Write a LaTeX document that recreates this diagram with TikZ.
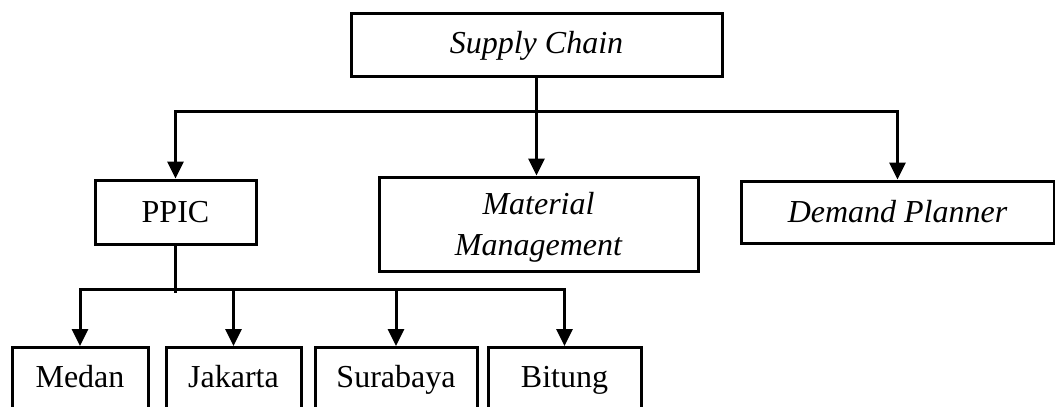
\documentclass[tikz,border=0pt]{standalone}
\usepackage{fontspec}
\setmainfont{Liberation Serif}
\usetikzlibrary{arrows.meta}

\begin{document}
\begin{tikzpicture}[x=1pt,y=-1pt,
  font=\fontsize{32}{41}\selectfont,
  box/.style={draw=black, line width=3pt, rectangle, inner sep=0pt, align=center},
  cityboxstyle/.style={box, anchor=north, text height=20pt, text depth=20pt, inner ysep=20pt},
  conn/.style={draw=black, line width=3pt, line join=miter},
  tip/.style={-{Triangle[length=17pt,width=16pt]}},
  tips/.style={{Triangle[length=17pt,width=16pt]}-{Triangle[length=17pt,width=16pt]}}
]
\useasboundingbox (0,0) rectangle (1055,407);
\clip (0,0) rectangle (1055,407);

% top level
\node[box, minimum width=371pt, minimum height=63pt, text height=23pt, text depth=5pt] (sc) at (536.5,44.5) {\itshape Supply Chain};

% second level
\node[box, minimum width=161pt, minimum height=64pt] (ppic) at (175.5,212) {PPIC};
\node[box, minimum width=319pt, minimum height=94pt, text depth=0pt] (mm) at (538.5,224) {\itshape Material\\\itshape Management};
\node[box, minimum width=313pt, minimum height=62pt] (dp) at (897.5,212) {\itshape Demand Planner};

% branch offices
\node[cityboxstyle, minimum width=136pt] (medan) at (80,346) {Medan};
\node[cityboxstyle, minimum width=135pt] (jakarta) at (233.5,346) {Jakarta};
\node[cityboxstyle, minimum width=162pt] (surabaya) at (396,346) {Surabaya};
\node[cityboxstyle, minimum width=153pt] (bitung) at (564.5,346) {Bitung};

% bus lines
\coordinate (bus) at (0,111);
\coordinate (bustwo) at (0,289);
\coordinate (tail) at (0,293);

\draw[conn, tips] (ppic.north) -- (ppic.north |- bus) -- (dp.north |- bus) -- (dp.north);
\draw[conn, tip] (sc.south) -- (sc.south |- mm.north);

\draw[conn] (ppic.south) -- (ppic.south |- tail);
\draw[conn, tips] (medan.north) -- (medan.north |- bustwo) -- (bitung.north |- bustwo) -- (bitung.north);
\draw[conn, tip] (jakarta.north |- bustwo) -- (jakarta.north);
\draw[conn, tip] (surabaya.north |- bustwo) -- (surabaya.north);
\end{tikzpicture}
\end{document}
